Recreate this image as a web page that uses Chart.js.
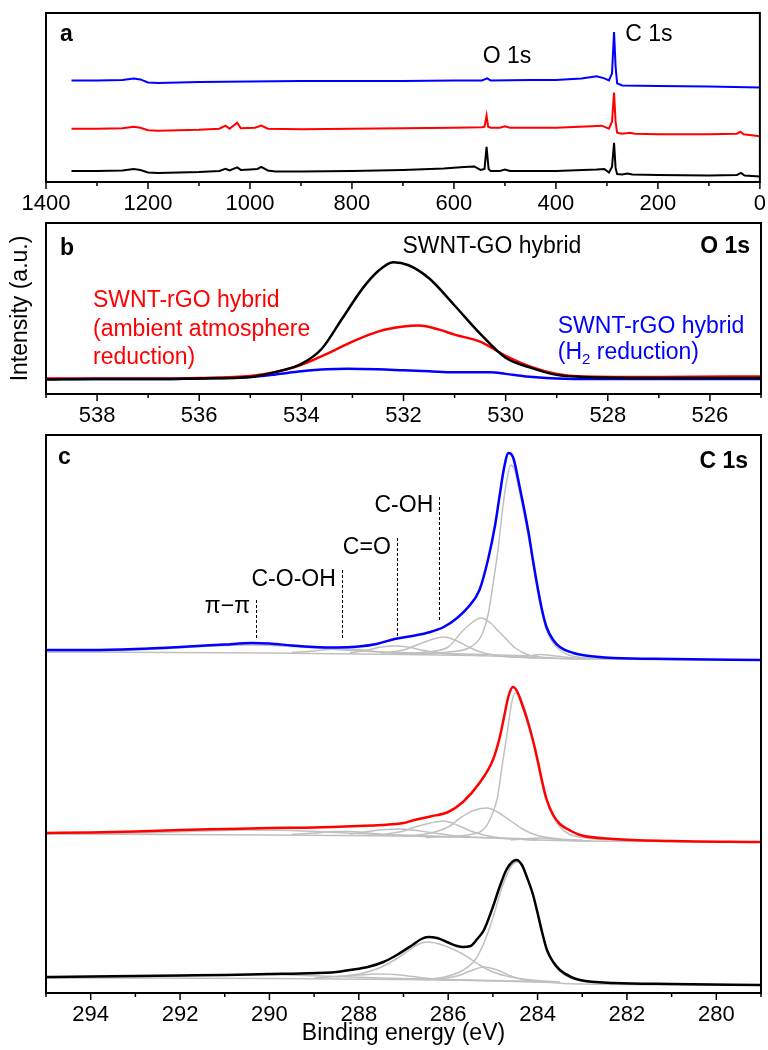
<!DOCTYPE html>
<html>
<head>
<meta charset="utf-8">
<title>XPS spectra</title>
<script src="https://cdn.jsdelivr.net/npm/chart.js@4.4.0/dist/chart.umd.min.js"></script>
<style>
    html, body { margin: 0; padding: 0; background: #fff; }
    #figure { position: relative; width: 768px; height: 1050px; }
    #figure canvas { position: absolute; left: 0; }
</style>
</head>
<body>
<div id="figure">
    <canvas id="chartA" width="768" height="220" style="top:0px"></canvas>
    <canvas id="chartB" width="768" height="235" style="top:205px"></canvas>
    <canvas id="chartC" width="768" height="625" style="top:425px"></canvas>
</div>
<script>
// ---- data: [binding energy (eV), intensity (a.u.)] ----

// (a) survey spectra
const surveyBlue = [[1350,101],[1300,101],[1250,101.5],[1228,103],[1215,102],[1200,99],[1180,98.5],[1100,99.5],[1000,100],[900,100.5],[800,100.5],[700,100.5],[600,101],[545,101],[535,103],[528,101],[450,101.5],[400,101.5],[350,103],[320,105],[305,103],[296,101],[290,108],[286,149],[283,115],[280,98],[270,96],[200,95.5],[100,95],[50,94.5],[0,94]];
const surveyRed = [[1350,53],[1300,53],[1250,53.5],[1228,55],[1215,54],[1200,51.5],[1180,51],[1100,52],[1060,53],[1048,56],[1040,53],[1025,59],[1018,53.5],[990,54],[978,56],[965,53],[900,52.5],[800,53],[700,53.5],[600,54],[545,54.5],[540,55],[536,66],[533,55],[528,54],[510,54],[500,55.5],[490,54],[400,54],[330,55.5],[310,56],[296,53],[290,60],[286,89],[283,60],[280,49],[270,48],[255,49],[245,48],[200,47.5],[100,47.5],[45,48],[38,50],[32,47.5],[0,45.5]];
const surveyBlack = [[1350,11],[1300,11],[1250,11.5],[1228,13],[1215,12],[1200,9.5],[1180,9],[1100,10],[1060,11],[1048,13],[1040,11.5],[1025,14.5],[1018,12],[1000,12.5],[985,13],[978,15],[965,11.5],[950,10.5],[900,10.5],[800,11],[700,12],[620,13.5],[580,15],[560,15.5],[548,12],[540,13],[536,35],[532,13],[528,11],[510,11],[500,12.5],[490,11],[400,11],[320,12.5],[305,13],[296,9.5],[290,15],[286,39],[283,14],[280,8],[270,7.5],[260,8.5],[250,7.5],[200,7],[100,6.5],[45,7],[37,9],[30,6.5],[0,5.5]];

// (b) O 1s
const o1sBlack = [[539,14.5],[538,15],[537,15],[536,15.5],[535,17],[534.5,22],[534,30],[533.6,45],[533.2,75],[532.8,105],[532.5,122],[532.2,131],[531.9,128],[531.5,115],[531,88],[530.5,60],[530,36],[529.5,26],[529,19],[528.5,17],[527,16],[525,16]];
const o1sRed = [[539,15.5],[538,15.5],[537,15.5],[536,16],[535,18],[534.5,22],[534,29],[533.5,40],[533,52],[532.5,62],[532,67],[531.7,68],[531.3,64],[531,59],[530.5,52],[530,38],[529.5,27],[529,20],[528.5,17.5],[527,17],[525,17.5]];
const o1sBlue = [[539,15],[538,15],[537,15],[536,15.5],[535,17],[534.5,19.5],[534,22.5],[533.5,24.5],[533.1,25],[532.5,24.5],[532,23.5],[531.5,22.5],[531,21.5],[530.6,21.5],[530.3,21.5],[530,20],[529.6,17.5],[529.2,16],[528.5,15],[527,15],[525,15]];

// (c) C 1s, measured envelopes
const c1sBlue = [[295,343],[294,343],[293,344],[292,346],[291,348.5],[290.4,350],[290,349.5],[289.5,347.5],[289,346],[288.5,345.5],[288,346.5],[287.6,349],[287.2,354],[286.8,357],[286.4,361],[286.1,366],[285.8,375],[285.55,386],[285.3,403],[285.1,435],[284.95,468],[284.85,497],[284.75,525],[284.65,540],[284.55,536],[284.4,506],[284.2,460],[284.1,432],[284,406],[283.9,383],[283.8,366],[283.65,353],[283.5,346],[283.2,340],[283,338],[282.3,335],[281,334],[279,333]];
const c1sRed = [[295,160],[294,160.5],[293,161.5],[292,163],[291,164],[290,165],[289,165.5],[288,167],[287.5,168],[287,170],[286.8,172.5],[286.4,176.5],[286,181],[285.67,191],[285.3,210],[285,233],[284.85,255],[284.75,276],[284.65,297],[284.55,306],[284.45,301],[284.35,289],[284.23,273],[284.1,252],[284,233],[283.9,212],[283.8,194],[283.65,178],[283.5,169],[283.25,162],[283.05,158],[282.3,154],[281,152],[279,151]];
const c1sBlack = [[295,16],[294,16.5],[293,17],[292,17.5],[291,18],[290,19],[289.3,19.5],[288.5,21],[288.2,23],[287.8,26],[287.45,31],[287.15,38],[286.8,48],[286.6,54],[286.45,56],[286.25,55],[286.03,51],[285.8,47],[285.67,46],[285.5,47],[285.35,54],[285.2,63],[285,86],[284.85,106],[284.7,123],[284.57,131],[284.47,133],[284.35,128],[284.24,116],[284.1,98],[284,80],[283.9,61],[283.79,43],[283.65,31],[283.5,23],[283.25,16],[283.05,13],[282.3,10],[281,9],[279,8]];

// (c) C 1s, fitted components (grey) and background
const c1sBlueFit = [
    [[287,339],[286.5,339.5],[286,341],[285.5,346],[285.25,358],[285.1,380],[285,408],[284.88,445],[284.78,485],[284.68,515],[284.6,528],[284.52,524],[284.4,500],[284.2,455],[284.1,428],[284,402],[283.9,380],[283.8,363],[283.65,350],[283.5,343],[283.3,338],[283,335.5],[282,334],[279,333]],
    [[287,339],[286.5,341],[286,346],[285.7,361],[285.45,371],[285.27,375],[285.05,370],[284.9,363],[284.7,354],[284.5,345],[284.2,338],[283.8,335.5],[283,334]],
    [[287.5,340],[287,343],[286.7,348],[286.4,353],[286.1,356],[285.8,352],[285.5,345],[285.2,340],[284.8,337],[284,335]],
    [[288.2,340],[287.8,343],[287.5,346],[287.2,347],[286.9,346],[286.6,343],[286.2,340],[285.5,338]],
    [[289.5,340.5],[289,342],[288.5,344],[288.2,344],[287.8,342.5],[287.3,340],[286.5,339]],
    [[295,341],[293.5,342],[292.5,344],[291.5,346.5],[290.4,348],[289.5,346.5],[288.5,343.5],[287.5,341],[286,339.5],[284,337]],
    [[284.6,335.5],[284.2,337],[283.95,338.5],[283.6,337],[283.2,335],[282.8,334]],
    [[295,341],[290,340],[287,338.5],[285,337],[284,335],[283,334],[279,333]]
];
const c1sRedFit = [
    [[286.5,155.5],[286,156.5],[285.5,158.5],[285.2,164],[285.05,175],[284.9,195],[284.8,225],[284.68,260],[284.58,290],[284.5,300],[284.42,298],[284.3,286],[284.15,262],[284,230],[283.85,200],[283.7,180],[283.5,166],[283.3,159],[283,155.5],[282,152.5],[279,151]],
    [[287,157],[286.5,159],[286,166],[285.7,176],[285.4,183],[285.13,185],[284.9,181],[284.6,172],[284.3,163],[284,157.5],[283.5,154],[283,153]],
    [[287.5,158],[287,162],[286.7,166.5],[286.4,170],[286.1,172],[285.8,168],[285.5,162],[285.2,158],[284.8,155],[284,153]],
    [[288.2,159],[287.8,161.5],[287.4,163.5],[287.1,164],[286.8,163],[286.4,160.5],[286,158],[285.5,156]],
    [[289.5,158.5],[289,160],[288.5,161.5],[288.2,161.5],[287.8,160],[287.3,158],[286.5,156.5]],
    [[295,159],[293.5,159.5],[292.5,160.5],[291.5,162],[290.5,163],[289.5,162.5],[288.5,160.5],[287.5,158.5],[286,156.5],[284,154]],
    [[284.6,153],[284.2,154.5],[283.95,155],[283.6,154],[283.2,152.5],[282.8,152]],
    [[295,159],[290,158],[287,157],[285,155],[284,153],[283,152],[279,151]]
];
const c1sBlackFit = [
    [[286.5,13],[286,17],[285.7,22],[285.4,33],[285.2,50],[285,75],[284.8,105],[284.6,126],[284.45,131],[284.3,124],[284.1,97],[283.95,72],[283.8,45],[283.6,27],[283.4,18],[283.1,13],[282.7,10.5],[282,9.5],[279,8]],
    [[288.5,16],[288,19],[287.6,24],[287.2,33],[286.9,42],[286.7,48],[286.47,51],[286.2,49],[285.9,44],[285.6,37],[285.3,28],[285,21],[284.6,16],[284,12.5],[283.5,11]],
    [[286.2,14],[285.8,17],[285.5,22],[285.2,26],[284.9,23],[284.6,17],[284.3,13],[283.8,11]],
    [[289,15],[288.5,16.5],[288,18],[287.6,19],[287.2,18.5],[286.8,16.5],[286.3,14],[285.5,13]],
    [[295,15],[293,16],[291.5,17.5],[290.5,18.5],[289.5,18],[288.5,16.5],[287.5,15],[286,13.5],[284,11.5]],
    [[295,15],[290,14.5],[287,13.5],[285.5,12.5],[284,11],[283,9],[279,8]]
];

// peak assignment markers in (c): energy, dashed line extent
const peakNames = ['π−π', 'C-O-OH', 'C=O', 'C-OH'];
const peakEnergy = [290.3, 288.38, 287.15, 286.2];
const peakLineTop = [393, 423, 455, 496];
const peakLineBottom = [355, 353, 356, 371];
const peakLabelLevel = [386, 413, 445, 487];

// ---- drawing ----
const FONT = '"Liberation Sans", Arial, Helvetica, sans-serif';
Chart.defaults.font.family = FONT;
Chart.defaults.color = '#000';

const colors = {
    blue: '#0000ff',
    red: '#ff0000',
    black: '#000000',
    fit: '#c0c0c0'
};

// box frame plus major/minor ticks on the bottom axis
function framePlugin(majorStep) {
    return {
        id: 'frame',
        afterDraw(chart) {
            const { ctx, chartArea: a, scales: { x } } = chart;
            ctx.save();
            ctx.strokeStyle = '#000';
            ctx.lineWidth = 1.5;
            x.ticks.forEach(t => {
                const px = x.getPixelForValue(t.value);
                const len = Math.round(t.value) % majorStep === 0 ? 7 : 4;
                ctx.beginPath();
                ctx.moveTo(px, a.bottom);
                ctx.lineTo(px, a.bottom + len);
                ctx.stroke();
            });
            ctx.lineWidth = 2;
            ctx.strokeRect(a.left, a.top, a.right - a.left, a.bottom - a.top);
            ctx.restore();
        }
    };
}

// text annotations and dashed peak markers
function notesPlugin(notes, markers) {
    return {
        id: 'notes',
        afterDatasetsDraw(chart) {
            const { ctx, chartArea: a, scales: { x, y } } = chart;
            ctx.save();
            ctx.strokeStyle = '#000';
            ctx.lineWidth = 1;
            ctx.setLineDash([3, 2]);
            (markers || []).forEach(m => {
                const px = Math.round(x.getPixelForValue(m.x)) + 0.5;
                ctx.beginPath();
                ctx.moveTo(px, y.getPixelForValue(m.top));
                ctx.lineTo(px, y.getPixelForValue(m.bottom));
                ctx.stroke();
            });
            ctx.setLineDash([]);
            ctx.textBaseline = 'middle';
            notes.forEach(n => {
                let px, py, align = n.align || 'left';
                if (n.corner) {
                    px = n.corner === 'left' ? a.left + n.dx : a.right - n.dx;
                    py = a.top + n.dy;
                    align = n.corner;
                } else {
                    px = x.getPixelForValue(n.x) + (n.dx || 0);
                    py = y.getPixelForValue(n.y);
                }
                const size = n.size || 23;
                const weight = n.bold ? 'bold ' : '';
                ctx.fillStyle = n.color || '#000';
                if (n.parts) {
                    ctx.textAlign = 'left';
                    n.parts.forEach(([txt, sub]) => {
                        ctx.font = `${weight}${sub ? 15 : size}px ${FONT}`;
                        ctx.fillText(txt, px, sub ? py + 7 : py);
                        px += ctx.measureText(txt).width;
                    });
                } else {
                    ctx.font = `${weight}${size}px ${FONT}`;
                    ctx.textAlign = align;
                    ctx.fillText(n.text, px, py);
                }
            });
            ctx.restore();
        }
    };
}

function xAxis(min, max, step, majorStep, height, title) {
    return {
        type: 'linear',
        reverse: true,
        min,
        max,
        border: { display: false },
        grid: { display: true, drawOnChartArea: false, drawTicks: true, tickLength: 7, tickColor: 'rgba(0,0,0,0)' },
        ticks: {
            stepSize: step,
            autoSkip: false,
            maxRotation: 0,
            padding: 2,
            color: '#000',
            font: { size: 22 },
            callback: v => (Math.round(v) % majorStep === 0 ? v : '')
        },
        title: title
            ? { display: true, text: title, color: '#000', font: { size: 23 }, padding: { top: 0, bottom: 3 } }
            : { display: false },
        afterFit: s => { s.height = height; }
    };
}

function yAxis(max, title) {
    return {
        min: 0,
        max,
        display: true,
        grid: { display: false },
        border: { display: false },
        ticks: { display: false },
        title: title
            ? { display: true, text: title, color: '#000', font: { size: 23 }, padding: { top: 7, bottom: 0 } }
            : { display: false },
        afterFit: s => { s.width = 46; }
    };
}

function line(data, color, width, smooth, order) {
    return {
        data,
        borderColor: color,
        borderWidth: width,
        pointRadius: 0,
        fill: false,
        tension: 0,
        cubicInterpolationMode: smooth ? 'monotone' : 'default',
        order
    };
}

class XpsFigure {
    constructor() {
        this.charts = {};
    }

    build(canvasId, { datasets, x, y, top, majorStep, notes, markers }) {
        const canvas = document.getElementById(canvasId);
        if (!canvas) return;
        this.charts[canvasId] = new Chart(canvas.getContext('2d'), {
            type: 'line',
            data: { datasets },
            options: {
                responsive: false,
                devicePixelRatio: 1,
                animation: false,
                layout: { padding: { top, right: 7, left: 0, bottom: 0 } },
                scales: { x, y },
                plugins: { legend: { display: false }, tooltip: { enabled: false } }
            },
            plugins: [notesPlugin(notes, markers), framePlugin(majorStep)]
        });
    }

    render() {
        this.build('chartA', {
            datasets: [
                line(surveyBlue, colors.blue, 2, false, 0),
                line(surveyRed, colors.red, 2, false, 0),
                line(surveyBlack, colors.black, 2, false, 0)
            ],
            x: xAxis(0, 1400, 100, 200, 38),
            y: yAxis(168),
            top: 13,
            majorStep: 200,
            notes: [
                { corner: 'left', dx: 14, dy: 22, text: 'a', bold: true },
                { text: 'O 1s', x: 543.6, y: 125 },
                { text: 'C 1s', x: 264, y: 146 }
            ]
        });

        this.build('chartB', {
            datasets: [
                line(o1sBlack, colors.black, 2.5, true, 0),
                line(o1sRed, colors.red, 2.5, true, 0),
                line(o1sBlue, colors.blue, 2.5, true, 0)
            ],
            x: xAxis(525, 539, 1, 2, 46),
            y: yAxis(170, 'Intensity (a.u.)'),
            top: 18,
            majorStep: 2,
            notes: [
                { corner: 'left', dx: 14, dy: 26, text: 'b', bold: true },
                { corner: 'right', dx: 11, dy: 24, text: 'O 1s', bold: true },
                { text: 'SWNT-GO hybrid', x: 532.02, y: 146 },
                { text: 'SWNT-rGO hybrid', x: 538.08, y: 93, color: colors.red },
                { text: '(ambient atmosphere', x: 538.08, y: 64, color: colors.red },
                { text: 'reduction)', x: 538.08, y: 36, color: colors.red },
                { text: 'SWNT-rGO hybrid', x: 528.98, y: 67, color: colors.blue },
                { parts: [['(H', false], ['2', true], [' reduction)', false]], x: 528.98, y: 41, color: colors.blue }
            ]
        });

        const fits = [...c1sBlueFit, ...c1sRedFit, ...c1sBlackFit]
            .map(d => line(d, colors.fit, 1.5, true, 1));
        this.build('chartC', {
            datasets: [
                ...fits,
                line(c1sBlue, colors.blue, 2.5, true, 0),
                line(c1sRed, colors.red, 2.5, true, 0),
                line(c1sBlack, colors.black, 2.5, true, 0)
            ],
            x: xAxis(279, 295, 1, 2, 57, 'Binding energy (eV)'),
            y: yAxis(558),
            top: 10,
            majorStep: 2,
            notes: [
                { corner: 'left', dx: 12, dy: 23, text: 'c', bold: true },
                { corner: 'right', dx: 13, dy: 27, text: 'C 1s', bold: true },
                ...peakNames.map((name, i) => ({
                    text: name, x: peakEnergy[i], dx: -6, y: peakLabelLevel[i], align: 'right'
                }))
            ],
            markers: peakEnergy.map((e, i) => ({ x: e, top: peakLineTop[i], bottom: peakLineBottom[i] }))
        });
    }
}

window.xpsFigure = new XpsFigure();
window.xpsFigure.render();
</script>
</body>
</html>
